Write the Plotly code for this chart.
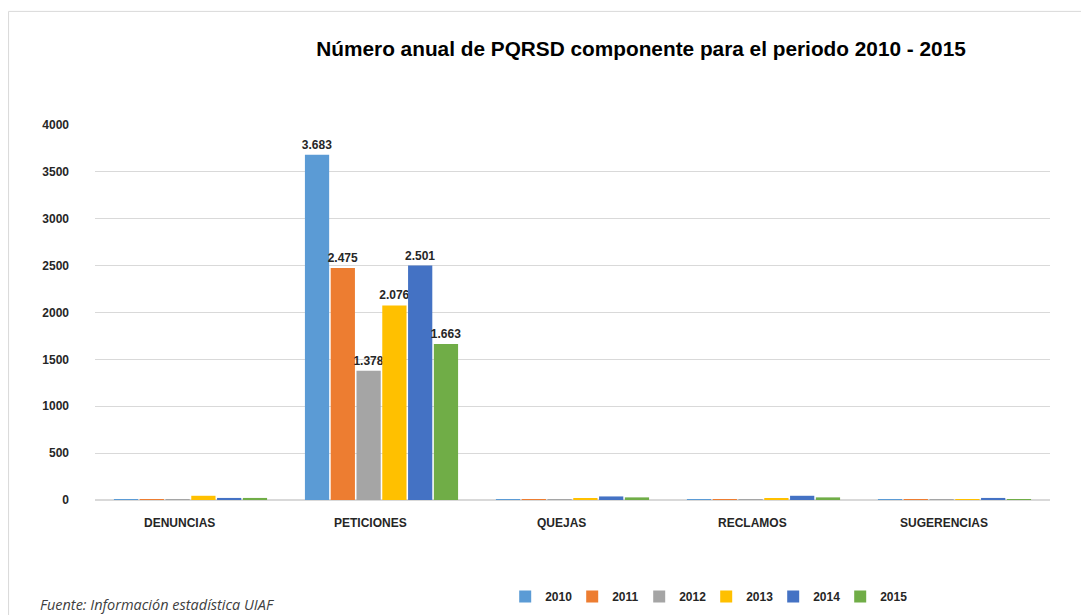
"""Número anual de PQRSD por componente, 2010 - 2015."""

import plotly.graph_objects as go

componentes = ['DENUNCIAS', 'PETICIONES', 'QUEJAS', 'RECLAMOS', 'SUGERENCIAS']
anios = ['2010', '2011', '2012', '2013', '2014', '2015']

v2010 = [6, 3683, 6, 6, 6]
v2011 = [6, 2475, 6, 6, 6]
v2012 = [6, 1378, 6, 6, 6]
v2013 = [45, 2076, 18, 18, 10]
v2014 = [22, 2501, 38, 45, 22]
v2015 = [22, 1663, 28, 28, 6]

colores = ['#5B9BD5', '#ED7D31', '#A5A5A5', '#FFC000', '#4472C4', '#70AD47']

series = [v2010, v2011, v2012, v2013, v2014, v2015]


def _etiqueta(v):
    # solo se rotulan las peticiones, con punto de miles
    return f'<b>{v:,}</b>'.replace(',', '.') if v > 1000 else ''


fig = go.Figure()
for anio, vals, color in zip(anios, series, colores):
    fig.add_trace(go.Bar(
        x=componentes, y=vals, name=anio,
        marker=dict(color=color, line=dict(width=0)),
        text=[_etiqueta(v) for v in vals],
        textposition='outside', constraintext='none',
        textfont=dict(family='Liberation Sans, Arial', size=12,
                      color='#262626'),
        cliponaxis=False,
    ))

# etiquetas de categoría, algo desplazadas a la izquierda como en la vista 3D
cat_labels = [dict(
    text=f'<b>{c}</b>', x=c, xref='x', y=0, yref='y',
    yshift=-23, xshift=-11, showarrow=False,
    font=dict(family='Liberation Sans Narrow, Arial Narrow, Liberation Sans',
              size=12, color='#262626'),
) for c in componentes]

fig.update_layout(
    title=dict(
        text='<b>Número anual de PQRSD componente para el periodo 2010 - 2015</b>',
        x=0.5813, xanchor='center', y=0.934, yanchor='middle',
        font=dict(family='Liberation Sans, Arial', size=20.8, color='#000000'),
    ),
    barmode='group',
    bargap=0.19,
    bargroupgap=0.06,
    width=1089, height=615,
    margin=dict(l=87, r=47, t=117, b=116),
    plot_bgcolor='white',
    paper_bgcolor='white',
    xaxis=dict(
        showgrid=False, showline=False, ticks='', showticklabels=False,
    ),
    yaxis=dict(
        range=[0, 4000], dtick=500,
        showgrid=True, gridcolor='#d9d9d9', gridwidth=1,
        zeroline=True, zerolinecolor='#d9d9d9',
        showline=False, ticks='', ticklabelstandoff=25,
        tickfont=dict(family='Liberation Sans, Arial', size=12,
                      color='#262626', weight='bold'),
    ),
    legend=dict(
        orientation='h', x=0.64, xanchor='center', y=-0.2576, yanchor='middle',
        font=dict(family='Liberation Sans Narrow, Arial Narrow, Liberation Sans',
                  size=12, color='#262626', weight='bold'),
        itemwidth=30, entrywidth=22, traceorder='normal',
    ),
    showlegend=True,
    shapes=[dict(
        type='rect', xref='paper', yref='paper',
        x0=-0.0905, x1=1.2, y0=-0.4, y1=1.303,
        line=dict(color='#d9d9d9', width=1), layer='below',
    )],
    annotations=cat_labels + [dict(
        text='<i>Fuente: Información estadística UIAF</i>',
        xref='paper', yref='paper', x=-0.0597, y=-0.279,
        xanchor='left', yanchor='middle', showarrow=False,
        font=dict(family='Open Sans, Liberation Sans', size=14.5, color='#404040'),
    )],
)

fig.write_html('out.html')
